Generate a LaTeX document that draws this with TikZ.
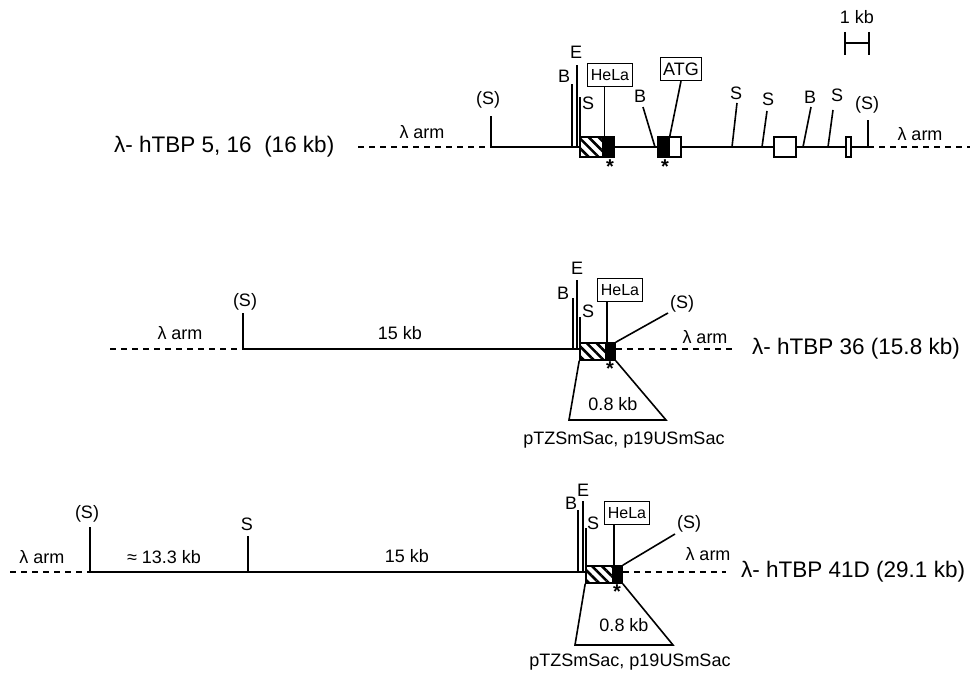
\documentclass[tikz,border=0pt]{standalone}
\usepackage{fontspec}
\setmainfont{Liberation Sans}
\usetikzlibrary{patterns.meta}

\begin{document}
\begin{tikzpicture}[x=1pt,y=-1pt]
\tikzstyle{every node}=[inner sep=0pt,font=\fontsize{18}{18}\selectfont];
\tikzstyle{arm}=[line width=1.3pt,dash pattern=on 6pt off 5pt];
\tikzstyle{dna}=[line width=1.6pt];
\tikzstyle{tag}=[draw,line width=1.2pt,inner sep=3pt,minimum height=23pt,font=\fontsize{16}{16}\selectfont];
\tikzstyle{clone}=[anchor=west,font=\fontsize{22.5}{22.5}\selectfont];
\tikzstyle{hatchbox}=[draw,line width=1.6pt,preaction={fill=white},pattern={Lines[angle=-45,distance=7pt,line width=2.6pt]}];
\tikzstyle{blackbox}=[draw,line width=1.6pt,fill=black];
\tikzstyle{exon}=[draw,line width=1.6pt,fill=white];
\tikzstyle{star}=[font=\fontsize{20}{20}\selectfont\bfseries];
\useasboundingbox (0,0) rectangle (970,677);

% clone 5, 16
\node[clone] (N1) at (114,147) {λ- hTBP 5, 16\ \ (16 kb)};
\coordinate (L1) at (358,147);
\coordinate (R1) at (970,147);
\coordinate (P1) at (491,147); \coordinate (P1t) at (491,116);
\coordinate (Q1) at (868,147); \coordinate (Q1t) at (868,120);
\draw[arm] (L1) -- (P1);
\draw[dna] (P1) -- (Q1);
\draw[arm] (Q1) -- (R1);
\draw[dna] (P1) -- (P1t);
\draw[dna] (Q1) -- (Q1t);
\node (p1) at (488,100) {(S)};
\node (q1) at (867,105) {(S)};
\node (arm1) at (422,132) {λ arm};
\node (arm1r) at (920,134) {λ arm};

\coordinate (B1) at (572,147); \coordinate (B1t) at (572,84);
\coordinate (E1) at (577,147); \coordinate (E1t) at (577,65);
\coordinate (S1) at (580,147); \coordinate (S1t) at (580,97);
\draw[dna] (B1) -- (B1t);
\draw[dna] (E1) -- (E1t);
\draw[dna] (S1) -- (S1t);
\node (b1) at (564,76) {B};
\node (e1) at (576,52) {E};
\node (s1) at (588,103) {S};

\node[hatchbox,minimum width=23pt,minimum height=20pt] (H1) at (591.5,147) {};
\node[blackbox,minimum width=11pt,minimum height=20pt] (K1) at (608.5,147) {};
\node[tag] (HL1) at (610,75) {HeLa};
\draw[dna] (H1.north east) -- (H1.north east |- HL1.south);
\node[star] (st1) at (610,167) {*};

\coordinate (B2) at (655,147); \coordinate (B2t) at (643,107);
\draw[dna] (B2) -- (B2t);
\node (b2) at (640,96) {B};
\node[blackbox,minimum width=11pt,minimum height=20pt] (K1b) at (663.5,147) {};
\node[exon,minimum width=12pt,minimum height=20pt] (W1) at (675,147) {};
\node[tag,font=\fontsize{18}{18}\selectfont] (ATG) at (681,69) {ATG};
\draw[dna] (ATG.south) -- (K1b.north east);
\node[star] (st2) at (665,167) {*};

\coordinate (S2) at (732,147); \coordinate (S2t) at (737,103);
\coordinate (S3) at (762,147); \coordinate (S3t) at (767,111);
\coordinate (B3) at (803,147); \coordinate (B3t) at (811,107);
\coordinate (S4) at (828,147); \coordinate (S4t) at (833,110);
\draw[dna] (S2) -- (S2t);
\draw[dna] (S3) -- (S3t);
\draw[dna] (B3) -- (B3t);
\draw[dna] (S4) -- (S4t);
\node (s2) at (736,93) {S};
\node (s3) at (768,99) {S};
\node (b3) at (810,97) {B};
\node (s4) at (837,95) {S};
\node[exon,minimum width=22pt,minimum height=20pt] (W2) at (785,147) {};
\node[exon,minimum width=5pt,minimum height=20pt] (W3) at (848.5,147) {};

% 1 kb bar
\coordinate (k1) at (845,43); \coordinate (k2) at (869,43);
\coordinate (k1a) at (845,32); \coordinate (k1b) at (845,55);
\coordinate (k2a) at (869,32); \coordinate (k2b) at (869,55);
\draw[dna] (k1) -- (k2);
\draw[dna] (k1a) -- (k1b);
\draw[dna] (k2a) -- (k2b);
\node (kb) at (857,17) {1 kb};

% clone 36
\node[clone] (N2) at (752,349) {λ- hTBP 36 (15.8 kb)};
\coordinate (L2) at (110,349);
\coordinate (P2) at (243,349); \coordinate (P2t) at (243,313);
\coordinate (R2) at (733,349);
\node[hatchbox,minimum width=26pt,minimum height=17pt] (H2) at (593,351.5) {};
\node[blackbox,minimum width=9pt,minimum height=17pt] (K2) at (610.5,351.5) {};
\draw[arm] (L2) -- (P2);
\draw[dna] (P2) -- (H2.west |- P2);
\draw[arm] (K2.east |- P2) -- (R2);
\draw[dna] (P2) -- (P2t);
\node (p2) at (245,302) {(S)};
\node (arm2) at (180,333) {λ arm};
\node (kb2) at (400,333) {15 kb};

\coordinate (B21) at (573,349); \coordinate (B21t) at (573,298);
\coordinate (E21) at (577,349); \coordinate (E21t) at (577,280);
\coordinate (S21) at (580,349); \coordinate (S21t) at (580,317);
\draw[dna] (B21) -- (B21t);
\draw[dna] (E21) -- (E21t);
\draw[dna] (S21) -- (S21t);
\node (b21) at (563,293) {B};
\node (e21) at (577,268) {E};
\node (s21) at (588,311) {S};
\node[tag] (HL2) at (620,290) {HeLa};
\draw[dna] (H2.north east) -- (H2.north east |- HL2.south);
\coordinate (Q2t) at (668,313);
\draw[dna] (K2.north east) -- (Q2t);
\node (q2) at (682,304) {(S)};
\node (arm2r) at (705,337) {λ arm};
\node[star] (st3) at (610,369) {*};

\coordinate (T2a) at (569,420); \coordinate (T2b) at (666,420);
\draw[dna] (H2.south west) -- (T2a) -- (T2b) -- (K2.south east);
\node (f2) at (613,404) {0.8 kb};
\node (pl2) at (624,440) {pTZSmSac, p19USmSac};

% clone 41D
\node[clone] (N3) at (741,572) {λ- hTBP 41D (29.1 kb)};
\coordinate (L3) at (10,572);
\coordinate (P3) at (90,572); \coordinate (P3t) at (90,527);
\coordinate (U3) at (248,572); \coordinate (U3t) at (248,536);
\coordinate (R3) at (726,572);
\node[hatchbox,minimum width=27pt,minimum height=17pt] (H3) at (599.5,574.5) {};
\node[blackbox,minimum width=9pt,minimum height=17pt] (K3) at (617.5,574.5) {};
\draw[arm] (L3) -- (P3);
\draw[dna] (P3) -- (H3.west |- P3);
\draw[arm] (K3.east |- P3) -- (R3);
\draw[dna] (P3) -- (P3t);
\draw[dna] (U3) -- (U3t);
\node (p3) at (87,514) {(S)};
\node (u3) at (247,524) {S};
\node (arm3) at (42,557) {λ arm};
\node (kb3a) at (164,557) {≈ 13.3 kb};
\node (kb3) at (407,556) {15 kb};

\coordinate (B31) at (578,572); \coordinate (B31t) at (578,510);
\coordinate (E31) at (583,572); \coordinate (E31t) at (583,501);
\coordinate (S31) at (586,572); \coordinate (S31t) at (586,528);
\draw[dna] (B31) -- (B31t);
\draw[dna] (E31) -- (E31t);
\draw[dna] (S31) -- (S31t);
\node (b31) at (571,503) {B};
\node (e31) at (583,490) {E};
\node (s31) at (593,523) {S};
\node[tag] (HL3) at (627,513) {HeLa};
\draw[dna] (H3.north east) -- (H3.north east |- HL3.south);
\coordinate (Q3t) at (675,534);
\draw[dna] (K3.north east) -- (Q3t);
\node (q3) at (689,524) {(S)};
\node (arm3r) at (708,554) {λ arm};
\node[star] (st4) at (617,592) {*};

\coordinate (T3a) at (575,645); \coordinate (T3b) at (673,645);
\draw[dna] (H3.south west) -- (T3a) -- (T3b) -- (K3.south east);
\node (f3) at (624,625) {0.8 kb};
\node (pl3) at (630,662) {pTZSmSac, p19USmSac};

\end{tikzpicture}
\end{document}
